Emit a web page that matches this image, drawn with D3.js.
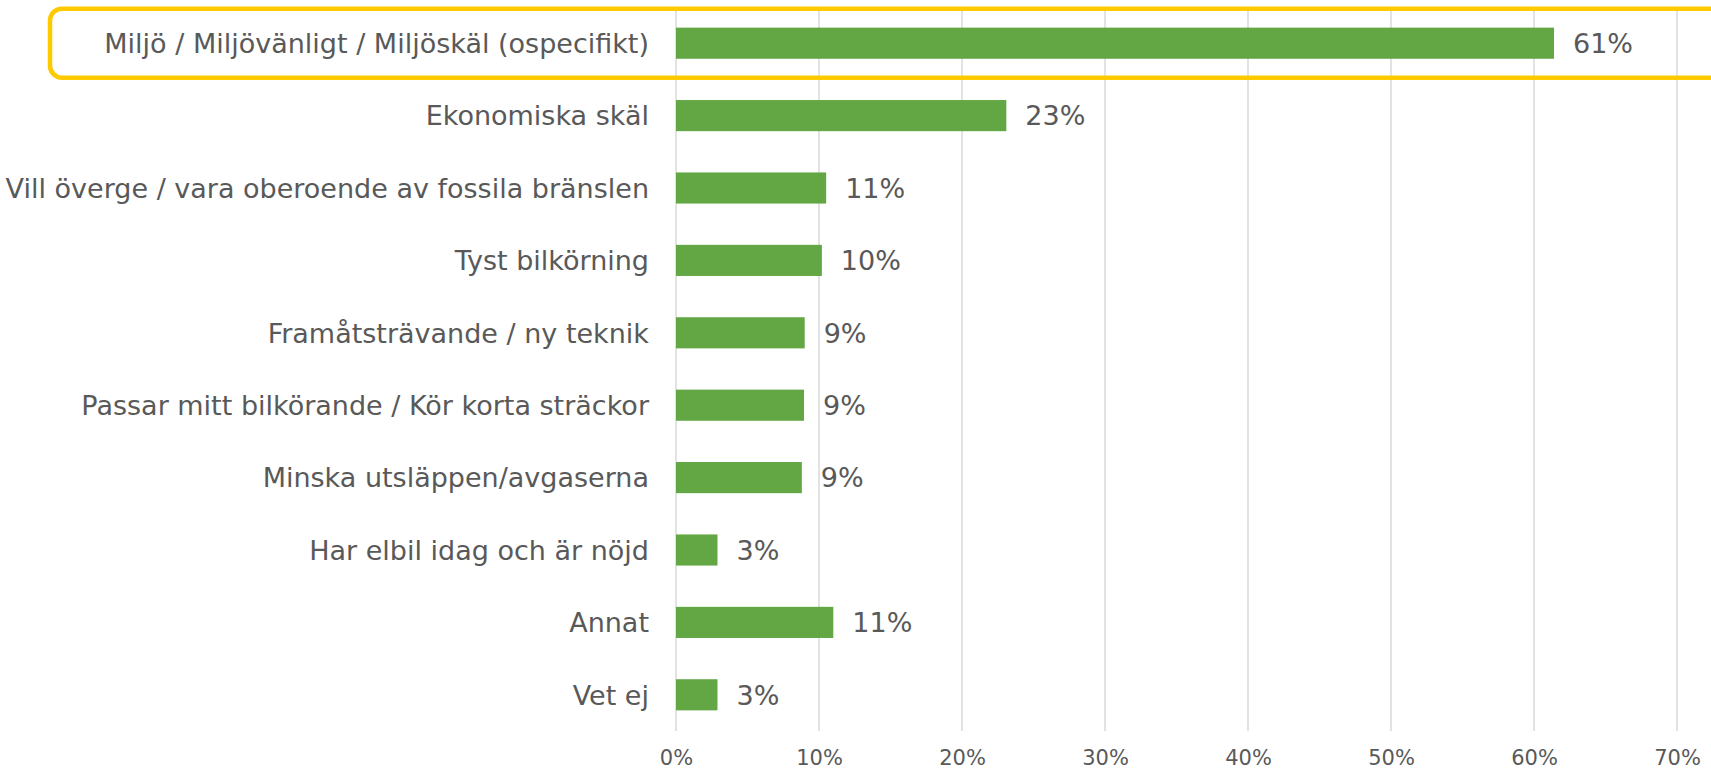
<!DOCTYPE html>
<html>
<head>
<meta charset="utf-8">
<script src="https://cdn.jsdelivr.net/npm/d3@7"></script>
<style>
  body { margin: 0; background: #fff; }
  svg { display: block; }
  .grid line { stroke: #d9d9d9; stroke-width: 1.5; }
  .x-axis path { display: none; }
  .x-axis text { fill: #595959; font-family: "DejaVu Sans"; font-size: 21px; }
</style>
</head>
<body>
<div id="chart"></div>
<script>
var width = 1711,
    height = 772,
    margin = {top: 7, bottom: 41, left: 676, right: 34}

// categories top to bottom
var categories = ['Miljö / Miljövänligt / Miljöskäl (ospecifikt)', 'Ekonomiska skäl', 'Vill överge / vara oberoende av fossila bränslen', 'Tyst bilkörning', 'Framåtsträvande / ny teknik', 'Passar mitt bilkörande / Kör korta sträckor', 'Minska utsläppen/avgaserna', 'Har elbil idag och är nöjd', 'Annat', 'Vet ej']
var values = [61.4, 23.1, 10.5, 10.2, 9.0, 8.95, 8.8, 2.9, 11.0, 2.9]
var valueLabels = ['61%', '23%', '11%', '10%', '9%', '9%', '9%', '3%', '11%', '3%']
var ticks = [0, 10, 20, 30, 40, 50, 60, 70]
var highlighted = 'Miljö / Miljövänligt / Miljöskäl (ospecifikt)'

var svg = d3.select('#chart').append('svg')
    .attr('width', width)
    .attr('height', height)

var x = d3.scaleLinear()
    .domain([0, 70])
    .range([margin.left, width - margin.right])

var y = d3.scaleBand()
    .domain(categories)
    .range([margin.top, height - margin.bottom])
    .paddingInner(0.57)
    .paddingOuter(0.285)

// vertical gridlines
svg.append('g')
    .attr('class', 'grid')
    .selectAll('line')
    .data(ticks)
    .enter()
    .append('line')
    .attr('x1', function(d) { return x(d); })
    .attr('x2', function(d) { return x(d); })
    .attr('y1', margin.top)
    .attr('y2', height - margin.bottom)

// x axis labels
svg.append('g')
    .attr('class', 'x-axis')
    .attr('transform', 'translate(0,' + (height - margin.bottom) + ')')
    .call(d3.axisBottom(x).tickValues(ticks).tickSize(0).tickPadding(19).tickFormat(function(d) { return d + '%'; }))

// bars
svg.append('g')
    .selectAll('rect')
    .data(values)
    .enter()
    .append('rect')
    .attr('x', x(0))
    .attr('y', function(d, i) { return y(categories[i]); })
    .attr('width', function(d) { return x(d) - x(0); })
    .attr('height', y.bandwidth())
    .attr('fill', '#62a744')

// value labels
svg.append('g')
    .selectAll('text')
    .data(values)
    .enter()
    .append('text')
    .text(function(d, i) { return valueLabels[i]; })
    .attr('x', function(d) { return x(d) + 19; })
    .attr('y', function(d, i) { return y(categories[i]) + y.bandwidth() / 2; })
    .attr('dy', '0.36em')
    .attr('font-family', 'DejaVu Sans')
    .attr('font-size', '27px')
    .attr('fill', '#595959')

// category labels
svg.append('g')
    .selectAll('text')
    .data(categories)
    .enter()
    .append('text')
    .text(function(d) { return d; })
    .attr('x', margin.left - 27)
    .attr('y', function(d) { return y(d) + y.bandwidth() / 2; })
    .attr('dy', '0.36em')
    .attr('text-anchor', 'end')
    .attr('font-family', 'DejaVu Sans')
    .attr('font-size', '27px')
    .attr('fill', '#595959')

// highlight box round the first category
svg.append('rect')
    .attr('x', 50)
    .attr('y', y(highlighted) + y.bandwidth() / 2 - 34.5)
    .attr('width', 1800)
    .attr('height', 69)
    .attr('rx', 12)
    .attr('fill', 'none')
    .attr('stroke', '#ffc900')
    .attr('stroke-width', 4.5)
</script>
</body>
</html>
